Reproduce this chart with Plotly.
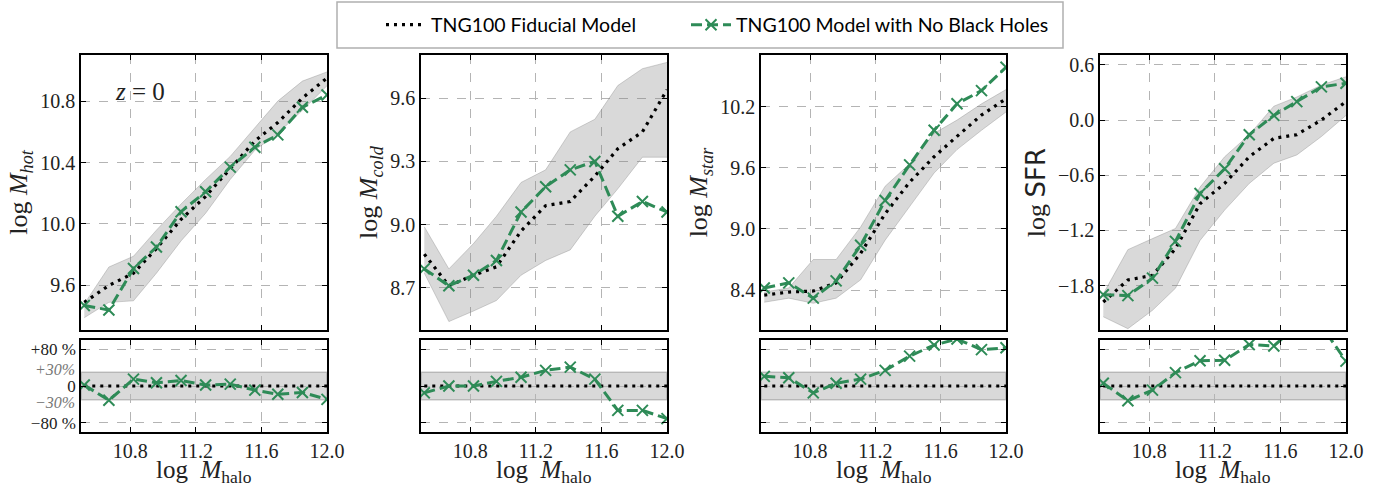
import plotly.graph_objects as go

# ---------------- data ----------------
LOG_MHALO = [10.52, 10.67, 10.82, 10.96, 11.11, 11.26, 11.41, 11.56, 11.70, 11.85, 12.0]

MHOT_FID = [9.49, 9.60, 9.68, 9.84, 10.03, 10.18, 10.36, 10.54, 10.66, 10.82, 10.95]
MHOT_NOBH = [9.47, 9.44, 9.71, 9.85, 10.08, 10.21, 10.37, 10.50, 10.58, 10.76, 10.84]
MHOT_LO = [9.39, 9.49, 9.50, 9.68, 9.89, 10.07, 10.29, 10.48, 10.59, 10.74, 10.90]
MHOT_HI = [9.48, 9.72, 9.79, 9.96, 10.13, 10.29, 10.44, 10.63, 10.80, 10.93, 10.99]
RATIO_MHOT = [0.02, -0.31, 0.15, 0.07, 0.12, 0.02, 0.04, -0.09, -0.18, -0.14, -0.29]

MCOLD_FID = [8.86, 8.71, 8.76, 8.80, 8.97, 9.09, 9.11, 9.23, 9.36, 9.44, 9.64]
MCOLD_NOBH = [8.79, 8.71, 8.76, 8.83, 9.06, 9.18, 9.26, 9.30, 9.04, 9.11, 9.06]
MCOLD_LO = [8.77, 8.54, 8.59, 8.64, 8.76, 8.83, 8.88, 9.04, 9.17, 9.32, 9.32]
MCOLD_HI = [8.99, 8.79, 8.91, 9.04, 9.20, 9.26, 9.44, 9.50, 9.66, 9.74, 9.77]
RATIO_MCOLD = [-0.15, 0.0, 0.0, 0.10, 0.19, 0.34, 0.41, 0.15, -0.53, -0.53, -0.71]

MSTAR_FID = [8.35, 8.38, 8.39, 8.47, 8.76, 9.15, 9.46, 9.71, 9.91, 10.12, 10.28]
MSTAR_NOBH = [8.42, 8.47, 8.32, 8.49, 8.84, 9.28, 9.63, 9.97, 10.23, 10.36, 10.59]
MSTAR_LO = [8.28, 8.32, 8.27, 8.32, 8.50, 8.89, 9.22, 9.55, 9.78, 9.97, 10.15]
MSTAR_HI = [8.38, 8.42, 8.70, 8.70, 9.02, 9.42, 9.64, 9.94, 10.07, 10.23, 10.37]
RATIO_MSTAR = [0.21, 0.18, -0.15, 0.06, 0.15, 0.34, 0.65, 0.89, 1.02, 0.79, 0.83]

SFR_FID = [-1.98, -1.74, -1.69, -1.40, -0.91, -0.69, -0.40, -0.20, -0.16, 0.0, 0.20]
SFR_NOBH = [-1.90, -1.91, -1.72, -1.32, -0.80, -0.53, -0.16, 0.05, 0.20, 0.36, 0.40]
SFR_LO = [-2.14, -2.27, -2.07, -1.83, -1.31, -0.98, -0.69, -0.47, -0.38, -0.18, 0.05]
SFR_HI = [-1.89, -1.41, -1.29, -1.18, -0.73, -0.40, -0.16, 0.15, 0.25, 0.38, 0.47]
RATIO_SFR = [0.06, -0.32, -0.09, 0.29, 0.55, 0.56, 0.90, 0.87, 1.31, 1.31, 0.54]

RATIO_BAND = 0.3

Y_TITLES = [
    "log <i>M</i><sub><i>hot</i></sub>",
    "log <i>M</i><sub><i>cold</i></sub>",
    "log <i>M</i><sub><i>star</i></sub>",
    "log <span style=\"font-family:'DejaVu Sans'\">SFR</span>",
]
X_TITLE = "log\u00a0 <i>M</i><sub>halo</sub>"
Y_TICKS = [
    [9.6, 10.0, 10.4, 10.8],
    [8.7, 9.0, 9.3, 9.6],
    [8.4, 9.0, 9.6, 10.2],
    [-1.8, -1.2, -0.6, 0.0, 0.6],
]
Y_TICKTEXT = [
    ["9.6", "10.0", "10.4", "10.8"],
    ["8.7", "9.0", "9.3", "9.6"],
    ["8.4", "9.0", "9.6", "10.2"],
    ["\u22121.8", "\u22121.2", "\u22120.6", "0.0", "0.6"],
]
Y_RANGES = [[9.31, 11.1], [8.50, 9.805], [8.007, 10.71], [-2.284, 0.707]]
X_TICKS = [10.8, 11.2, 11.6, 12.0]
X_TICKTEXT = ["10.8", "11.2", "11.6", "12.0"]
RATIO_TICKS = [-0.8, 0.0, 0.8]
RATIO_TICKTEXT = ["\u221280 %", "0", "+80 %"]

FID = [MHOT_FID, MCOLD_FID, MSTAR_FID, SFR_FID]
NOBH = [MHOT_NOBH, MCOLD_NOBH, MSTAR_NOBH, SFR_NOBH]
LO = [MHOT_LO, MCOLD_LO, MSTAR_LO, SFR_LO]
HI = [MHOT_HI, MCOLD_HI, MSTAR_HI, SFR_HI]
RATIO = [RATIO_MHOT, RATIO_MCOLD, RATIO_MSTAR, RATIO_SFR]

# ---------------- styling ----------------
W, H = 1380, 489
GREEN = "#2e8b57"
BAND_FILL = "rgba(128,128,128,0.30)"
BAND_EDGE = "rgba(128,128,128,0.35)"
GRID = "#b4b4b4"
SERIF = "Liberation Serif"

PX_X = [(81, 327), (421, 667), (761, 1006), (1100, 1346)]
TOP_Y = (55, 330)
BOT_Y = (340, 432)
LEGEND_BOX = (337, 2, 1063, 48)
XTITLE_TOP = 455


def xdom(p):
    return [p[0] / W, p[1] / W]


def ydom(p):
    return [1 - p[1] / H, 1 - p[0] / H]


fig = go.Figure()
xs = LOG_MHALO
shapes = []
annotations = []

for i in range(4):
    xa_top, ya_top = f"x{i+1}", f"y{i+1}"
    xa_bot, ya_bot = f"x{i+5}", f"y{i+5}"
    fig.add_trace(go.Scatter(x=xs, y=HI[i], mode="lines", line=dict(color=BAND_EDGE, width=1),
                             showlegend=False, hoverinfo="skip", xaxis=xa_top, yaxis=ya_top))
    fig.add_trace(go.Scatter(x=xs, y=LO[i], mode="lines", line=dict(color=BAND_EDGE, width=1),
                             fill="tonexty", fillcolor=BAND_FILL,
                             showlegend=False, hoverinfo="skip", xaxis=xa_top, yaxis=ya_top))
    fig.add_trace(go.Scatter(x=xs, y=FID[i], mode="lines",
                             line=dict(color="black", width=3.2, dash="3px,5px"),
                             name="TNG100 Fiducial Model", showlegend=(i == 0), legend="legend",
                             xaxis=xa_top, yaxis=ya_top))
    fig.add_trace(go.Scatter(x=xs, y=NOBH[i], mode="lines+markers",
                             line=dict(color=GREEN, width=3, dash="11px,5px"),
                             marker=dict(symbol="x-thin", size=11, color=GREEN,
                                         line=dict(width=2, color=GREEN)),
                             name="TNG100 Model with No Black Holes", showlegend=(i == 0),
                             legend="legend2", xaxis=xa_top, yaxis=ya_top))
    shapes.append(dict(type="rect", xref=f"x{i+5} domain", yref=ya_bot, x0=0, x1=1,
                       y0=-RATIO_BAND, y1=RATIO_BAND, fillcolor=BAND_FILL,
                       line=dict(color="rgba(128,128,128,0.45)", width=1.5), layer="below"))
    fig.add_trace(go.Scatter(x=xs, y=[0.0] * len(xs), mode="lines",
                             line=dict(color="black", width=3.2, dash="3px,5px"),
                             showlegend=False, hoverinfo="skip", xaxis=xa_bot, yaxis=ya_bot))
    fig.add_trace(go.Scatter(x=xs, y=RATIO[i], mode="lines+markers",
                             line=dict(color=GREEN, width=3, dash="11px,5px"),
                             marker=dict(symbol="x-thin", size=11, color=GREEN,
                                         line=dict(width=2, color=GREEN)),
                             showlegend=False, xaxis=xa_bot, yaxis=ya_bot))
    annotations.append(dict(text=X_TITLE, xref=f"x{i+5} domain", yref="paper", x=0.5,
                            y=1 - XTITLE_TOP / H, xanchor="center", yanchor="top", showarrow=False,
                            borderpad=0, font=dict(family=SERIF, size=25, color="#222")))

shapes.append(dict(type="rect", xref="paper", yref="paper",
                   x0=LEGEND_BOX[0] / W, x1=LEGEND_BOX[2] / W,
                   y0=1 - LEGEND_BOX[3] / H, y1=1 - LEGEND_BOX[1] / H,
                   line=dict(color="#b0b0b0", width=1.5), fillcolor="rgba(0,0,0,0)", layer="below"))

axis_common = dict(showline=True, mirror="ticks", linecolor="black", linewidth=1.6,
                   ticks="inside", ticklen=5, tickwidth=1.2, tickcolor="black",
                   showgrid=True, gridcolor=GRID, griddash="dash", gridwidth=1,
                   zeroline=False, automargin=False,
                   tickfont=dict(family=SERIF, size=20, color="#222"))

layout = dict(width=W, height=H, margin=dict(l=0, r=0, t=0, b=0, autoexpand=False),
              paper_bgcolor="white", plot_bgcolor="white", showlegend=True)

for i in range(4):
    layout[f"xaxis{i+1}"] = dict(axis_common, domain=xdom(PX_X[i]), anchor=f"y{i+1}",
                                 range=[10.5, 12.0], tickvals=X_TICKS, showticklabels=False)
    layout[f"yaxis{i+1}"] = dict(axis_common, domain=ydom(TOP_Y), anchor=f"x{i+1}",
                                 range=Y_RANGES[i], tickvals=Y_TICKS[i], ticktext=Y_TICKTEXT[i],
                                 title=dict(text=Y_TITLES[i], font=dict(family=SERIF, size=26, color="#222"),
                                            standoff=5))
    layout[f"xaxis{i+5}"] = dict(axis_common, domain=xdom(PX_X[i]), anchor=f"y{i+5}",
                                 range=[10.5, 12.0], tickvals=X_TICKS, ticktext=X_TICKTEXT)
    layout[f"yaxis{i+5}"] = dict(axis_common, domain=ydom(BOT_Y), anchor=f"x{i+5}",
                                 range=[-1.0, 1.0], tickvals=RATIO_TICKS, ticktext=RATIO_TICKTEXT,
                                 showticklabels=(i == 0), tickfont=dict(family=SERIF, size=17, color="#222"))

legend_common = dict(orientation="h", xanchor="left", y=1 - 25 / H, yanchor="middle",
                     borderwidth=0, bgcolor="rgba(0,0,0,0)",
                     font=dict(family="Lato", size=19.5, color="black"), itemwidth=40)
layout["legend"] = dict(legend_common, x=381 / W)
layout["legend2"] = dict(legend_common, x=686 / W)
layout["shapes"] = shapes

annotations += [
    dict(text="<i>z</i> = 0", xref="x1", yref="y1", x=10.86, y=10.86, showarrow=False,
         font=dict(family=SERIF, size=25, color="#222")),
    dict(text="<i>+30%</i>", xref="paper", yref="y5", x=PX_X[0][0] / W, y=RATIO_BAND, xanchor="right",
         xshift=-4, yshift=3, showarrow=False, font=dict(family=SERIF, size=16, color="#777")),
    dict(text="<i>\u221230%</i>", xref="paper", yref="y5", x=PX_X[0][0] / W, y=-RATIO_BAND, xanchor="right",
         xshift=-4, yshift=-3, showarrow=False, font=dict(family=SERIF, size=16, color="#777")),
]
layout["annotations"] = annotations

fig.update_layout(**layout)
fig.write_html("out.html")
